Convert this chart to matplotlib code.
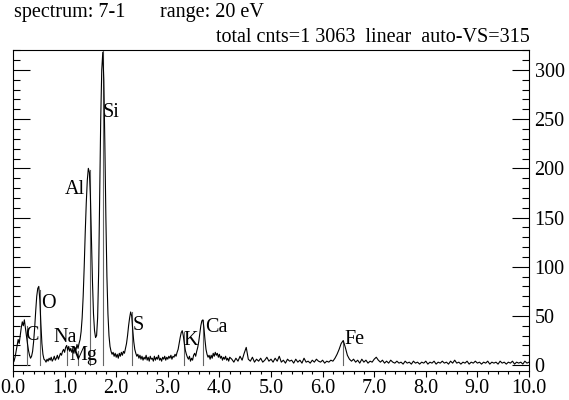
import numpy as np
import matplotlib
matplotlib.use("Agg")
import matplotlib.pyplot as plt
from matplotlib.ticker import MultipleLocator

plt.rcParams['font.family'] = ['Liberation Serif', 'DejaVu Serif']
BETU = 14.5  # betumeret

# channel energies (keV): fine grid below 4.2 keV, coarser above
energia_also = np.round(np.arange(0, 4.201, 0.02), 2)
energia_felso = np.round(np.arange(4.24, 10.001, 0.04), 2)

# counts
beutes_also = [
    2, 4, 8, 14, 20, 26, 22, 30, 38, 44,
    40, 46, 38, 30, 22, 15, 10, 7, 9, 14,
    24, 38, 55, 70, 78, 80, 66, 42, 22, 11,
    6, 5, 3, 6, 4, 7, 5, 8, 4, 6,
    9, 5, 7, 10, 6, 9, 12, 10, 14, 16,
    13, 18, 20, 15, 19, 14, 17, 13, 16, 12,
    18, 15, 21, 17, 22, 26, 34, 48, 70, 100,
    135, 165, 188, 200, 196, 172, 130, 85, 52, 35,
    28, 30, 48, 95, 170, 250, 300, 318, 290, 225,
    150, 90, 52, 30, 19, 14, 11, 13, 9, 12,
    8, 11, 7, 12, 9, 13, 10, 14, 12, 17,
    22, 30, 40, 48, 54, 50, 36, 24, 16, 12,
    9, 11, 7, 10, 6, 9, 5, 8, 6, 10,
    5, 8, 4, 9, 6, 7, 4, 9, 5, 8,
    6, 10, 5, 7, 4, 8, 6, 9, 5, 8,
    6, 9, 7, 10, 6, 9, 8, 11, 9, 13,
    16, 22, 28, 33, 35, 30, 22, 15, 11, 8,
    6, 9, 4, 7, 5, 10, 12, 9, 14, 18,
    24, 32, 40, 45, 46, 38, 26, 16, 11, 8,
    10, 6, 10, 7, 12, 9, 13, 10, 12, 8,
    11, 7, 9, 5, 8, 6, 9, 5, 7, 4,
    8,
]
beutes_felso = [
    6, 3, 7, 4, 9, 5, 12, 18, 6, 4, 8, 3, 6, 4, 7, 3, 5, 8, 4, 6,
    3, 7, 4, 9, 3, 5, 2, 6, 4, 5, 2, 6, 3, 5, 2, 7, 3, 4, 2, 5,
    3, 6, 4, 3, 5, 2, 4, 3, 5, 4, 7, 11, 16, 22, 25, 18, 10, 6, 4, 6,
    3, 5, 2, 6, 3, 5, 2, 4, 3, 6, 8, 5, 3, 5, 2, 4, 2, 5, 3, 2,
    4, 2, 3, 1, 4, 2, 3, 1, 4, 2, 3, 1, 3, 2, 4, 1, 3, 2, 4, 1,
    3, 2, 4, 2, 3, 1, 4, 2, 5, 2, 3, 1, 3, 2, 4, 1, 3, 2, 4, 2,
    3, 1, 3, 2, 4, 1, 3, 2, 3, 1, 4, 2, 3, 1, 3, 2, 4, 1, 3, 2,
    3, 1, 4, 2, 3,
]

# element markers: name, line energy, marker height, label position
elemek = ["C", "O", "Na", "Mg", "Al", "Si", "S", "K", "Ca", "Fe"]
elem_energia = [0.277, 0.525, 1.041, 1.254, 1.487, 1.740, 2.307, 3.313, 3.690, 6.398]
elem_magassag = [40, 76, 18, 14, 198, 320, 54, 34, 46, 25]
cimke_x = [0.23, 0.54, 0.78, 1.10, 1.01, 1.74, 2.31, 3.31, 3.72, 6.43]
cimke_y = [30, 63, 28, 10, 178, 257, 40, 25, 38, 26]

energia = np.concatenate([energia_also, energia_felso])
beutes = np.array(beutes_also + beutes_felso)

fig = plt.figure(figsize=(5.69, 4.0), dpi=100)
ax = fig.add_axes([13 / 569, 1 - 371 / 400, 516 / 569, 321 / 400])

# marker lines first, spectrum over them
for e, h in zip(elem_energia, elem_magassag):
    ax.plot([e, e], [0, h], color="0.4", lw=0.8)
ax.plot(energia, beutes, color="black", lw=0.8)

for nev, x, y in zip(elemek, cimke_x, cimke_y):
    ax.text(x, y, nev, fontsize=BETU, ha="left", va="center")

ax.set_xlim(0, 10)
ax.set_ylim(-6, 320.3)

# x axis: ticks down, labels every 1.0
ax.xaxis.set_minor_locator(MultipleLocator(0.2))
ax.set_xticks(np.arange(0, 10.01, 1.0))
ax.set_xticklabels([f"{v:.1f}" for v in np.arange(0, 10.01, 1.0)])
ax.tick_params(axis="x", which="major", direction="out", length=4.5, width=0.8,
               labelsize=BETU, pad=1.5, top=False)
ax.tick_params(axis="x", which="minor", direction="out", length=2.5, width=0.8, top=False)

# y axis: ticks inside on both sides, labels on the right
ax.yaxis.set_major_locator(MultipleLocator(50))
ax.yaxis.set_minor_locator(MultipleLocator(10))
ax.tick_params(axis="y", which="major", direction="in", length=12, width=0.8,
               left=True, right=True, labelleft=False, labelright=True,
               labelsize=BETU, pad=4)
ax.tick_params(axis="y", which="minor", direction="in", length=5, width=0.8,
               left=True, right=True)
for s in ax.spines.values():
    s.set_linewidth(0.8)

# header
fig.text(14 / 569, 1 - 13 / 400, "spectrum: 7-1", fontsize=BETU, va="center")
fig.text(160 / 569, 1 - 13 / 400, "range: 20 eV", fontsize=BETU, va="center")
fig.text(530 / 569, 1 - 38 / 400, "total cnts=1 3063  linear  auto-VS=315",
         fontsize=BETU, ha="right", va="center")

fig.savefig("out.png", dpi=100)
